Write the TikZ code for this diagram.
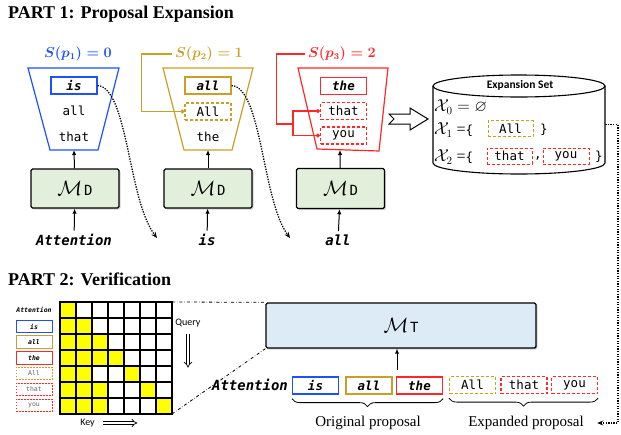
\documentclass[tikz,border=0pt]{standalone}
\usepackage{amsmath,amssymb}
\usepackage[no-math]{fontspec}
\setmainfont{Liberation Serif}
\setsansfont{Carlito}
\setmonofont{DejaVu Sans Mono}
\usetikzlibrary{arrows.meta,shadows,decorations.pathreplacing}

\definecolor{tokblue}{RGB}{30,80,255}
\definecolor{tokgold}{RGB}{200,160,40}
\definecolor{tokred}{RGB}{255,40,40}
\definecolor{mdgreen}{RGB}{226,239,218}
\definecolor{mtblue}{RGB}{221,235,247}
\definecolor{maskyellow}{RGB}{255,255,0}

\newcommand{\tokfont}{\fontsize{12.5}{14}\selectfont\ttfamily}
\newcommand{\tokbold}{\fontsize{12.5}{14}\selectfont\ttfamily\bfseries\itshape}
\newcommand{\attfont}{\fontsize{14}{16}\selectfont\ttfamily\bfseries\itshape}
\newcommand{\tinytok}{\fontsize{6.5}{7}\selectfont\ttfamily}
\newcommand{\tinybold}{\fontsize{6.5}{7}\selectfont\ttfamily\bfseries\itshape}
\newcommand{\slabel}{\fontsize{13.5}{14}\selectfont}
\newcommand{\score}[2]{{\boldmath$S(p_{#1})=#2$}}
\newcommand{\setfont}{\fontsize{16}{18}\selectfont}
\newcommand{\modellabel}[1]{{\fontsize{21}{21}\selectfont$\mathcal{M}$}\,{\fontsize{14}{14}\selectfont\ttfamily #1}}

\tikzset{
  tok/.style={draw, line width=1.2pt, minimum width=46pt, minimum height=17pt, inner sep=0pt, font=\tokfont},
  soltok/.style={tok, font=\tokbold},
  dashtok/.style={tok, dash pattern=on 3pt off 2pt},
  settok/.style={dashtok, line width=1pt, minimum width=45pt, minimum height=16pt},
  minitok/.style={draw, line width=0.9pt, minimum width=36pt, minimum height=12.5pt, inner sep=0pt, font=\tinybold},
  minidash/.style={minitok, dash pattern=on 1.5pt off 1.5pt, font=\tinytok, text=black!60},
  model/.style={draw, line width=1.4pt, rounded corners=1.5pt, drop shadow={opacity=0.35, shadow xshift=1.5pt, shadow yshift=-1.5pt}},
  arr/.style={line width=1pt, -{Latex[length=5pt,width=4.5pt]}},
  dotarr/.style={line width=1.3pt, dash pattern=on 1.3pt off 1.3pt, -{Stealth[length=6pt,width=5pt]}},
  loopline/.style={line width=1.1pt, -{Circle[length=4pt]}},
  hollow/.style={double, double distance=2.2pt, line width=0.7pt, -{Implies}},
  brace/.style={decorate, decoration={brace, mirror, amplitude=8pt}, line width=0.8pt},
  cell/.style={line width=1.1pt}
}

\begin{document}
\begin{tikzpicture}[x=1pt, y=-1pt]
    \useasboundingbox (0,0) rectangle (621,434);

    %TITLES
    \node (title1) [anchor=base west, inner sep=0pt, font=\fontsize{18}{18}\selectfont\bfseries] at (8,18) {PART 1: Proposal Expansion};
    \node (title2) [anchor=base west, inner sep=0pt, font=\fontsize{18}{18}\selectfont\bfseries] at (8,285) {PART 2: Verification};

    %STEP 1
    \draw [tokblue, line width=1.2pt] (28,68) -- (119,68) -- (98,150) -- (50,150) -- cycle;
    \node (s1) [text=tokblue, font=\slabel] at (78,54) {\score{1}{0}};
    \node (is1) [soltok, draw=tokblue] at (74,85.5) {is};
    \node (all1) [font=\tokfont] at (74,111) {all};
    \node (that1) [font=\tokfont] at (74,137) {that};
    \node (md1) [model, fill=mdgreen, minimum width=88pt, minimum height=39pt] at (75,188.5) {\modellabel{D}};
    \node (att1) [font=\attfont] at (74,240) {Attention};
    \coordinate (bot1) at (74,150);
    \draw [arr] (att1) -- (md1);
    \draw [arr] (md1) -- (bot1);

    %STEP 2
    \draw [tokgold, line width=1.2pt] (163,68) -- (253,68) -- (232,150) -- (184,150) -- cycle;
    \node (s2) [text=tokgold, font=\slabel] at (209,54) {\score{2}{1}};
    \node (all2) [soltok, draw=tokgold] at (208,85.5) {all};
    \node (All2) [dashtok, draw=tokgold] at (208,111.5) {All};
    \node (the2) [font=\tokfont] at (208,137) {the};
    \node (md2) [model, fill=mdgreen, minimum width=88pt, minimum height=39pt] at (208,188.5) {\modellabel{D}};
    \node (w2) [font=\attfont] at (207,240) {is};
    \coordinate (bot2) at (208,150);
    \draw [arr] (w2) -- (md2);
    \draw [arr] (md2) -- (bot2);
    \draw [tokgold, loopline] (s2.west) -- ++(-30,0) |- (All2.west);

    %STEP 3
    \draw [tokred, line width=1.2pt] (298,68) -- (388,68) -- (379,151) -- (317,149) -- cycle;
    \node (s3) [text=tokred, font=\slabel] at (342,54) {\score{3}{2}};
    \node (the3) [soltok, draw=tokred] at (343.5,86) {the};
    \node (that3) [dashtok, draw=tokred] at (343.5,111) {that};
    \node (you3) [dashtok, draw=tokred] at (343.5,135.5) {you};
    \node (md3) [model, fill=mdgreen, minimum width=88pt, minimum height=40pt] at (340.5,188.5) {\modellabel{D}};
    \node (w3) [font=\attfont] at (338,240) {all};
    \coordinate (bot3) at (340,150);
    \coordinate (fork) at (293,124);
    \draw [arr] (w3) -- (md3);
    \draw [arr] (md3) -- (bot3);
    \draw [tokred, line width=1.1pt] (s3.west) -- ++(-28,0) |- (fork);
    \draw [tokred, loopline] (fork) |- (that3.west);
    \draw [tokred, loopline] (fork) |- (you3.west);

    %NEXT TOKEN
    \coordinate (c1) at (157,238);
    \coordinate (c2) at (290,238);
    \draw [dotarr] (is1.east) .. controls (128,88) and (128,200) .. (c1);
    \draw [dotarr] (all2.east) .. controls (262,88) and (262,200) .. (c2);

    %EXPANSION SET
    \draw [line width=1pt, fill=white] (389,114) -- (410,114) -- (410,108) -- (428,119) -- (410,130) -- (410,124) -- (389,124) -- (394,119) -- cycle;
    \node (exset) [minimum width=172pt, minimum height=99pt, inner sep=0pt] at (519,124.5) {};
    \draw [line width=1.1pt, fill=white] (433,86) -- (433,163) .. controls (433,169.1) and (471.5,174) .. (519,174) .. controls (566.5,174) and (605,169.1) .. (605,163) -- (605,86);
    \draw [line width=1.1pt] (519,86) ellipse [x radius=86, y radius=11];
    \node (settitle) [font=\fontsize{11.5}{12}\selectfont\sffamily\bfseries] at (520,85) {Expansion Set};
    \node (x0) [anchor=west, inner sep=0pt, font=\setfont] at (434,107) {$\mathcal{X}_0 = \varnothing$};
    \node (x1) [anchor=west, inner sep=0pt, font=\setfont] at (434,130) {$\mathcal{X}_1$ ={\tokfont\{}};
    \node (setA) [settok, draw=tokgold] at (510.5,128.5) {All};
    \node (x1r) [font=\tokfont] at (544,130) {\}};
    \node (x2) [anchor=west, inner sep=0pt, font=\setfont] at (434,157) {$\mathcal{X}_2$ ={\tokfont\{}};
    \node (setB) [settok, draw=tokred] at (509.5,156) {that};
    \node (comma) [font=\tokfont] at (538,158) {,};
    \node (setC) [settok, draw=tokred, minimum width=46pt] at (566,156) {you};
    \node (x2r) [font=\tokfont] at (599,157) {\}};

    %ATTENTION MASK
    \node (matt) [font=\tinybold] at (34,310) {Attention};
    \node (mis) [minitok, draw=tokblue] at (34,326.5) {is};
    \node (mall) [minitok, draw=tokgold] at (34,342) {all};
    \node (mthe) [minitok, draw=tokred] at (34,358) {the};
    \node (mAll) [minidash, draw=tokgold] at (34,373.5) {All};
    \node (mthat) [minidash, draw=tokred] at (34,389.5) {that};
    \node (myou) [minidash, draw=tokred] at (34,405.5) {you};
    \foreach \r/\c in {0/0,1/0,1/1,2/0,2/1,2/2,3/0,3/1,3/2,3/3,4/0,4/1,4/4,5/0,5/1,5/2,5/5,6/0,6/1,6/2,6/6}
        \fill [maskyellow] (60+16*\c,302+16*\r) rectangle ++(16,16);
    \foreach \r in {0,...,6}
        \foreach \c in {0,...,6}
            \draw [cell] (60+16*\c,302+16*\r) rectangle ++(16,16);
    \coordinate (gtr) at (172,302);
    \coordinate (gbr) at (172,414);
    \node (query) [font=\fontsize{10}{11}\selectfont\sffamily] at (188,323) {Query};
    \node (key) [font=\fontsize{10}{11}\selectfont\sffamily] at (87.5,423) {Key};
    \draw [hollow] ([yshift=-3pt]query.south) -- ++(0,34);
    \draw [hollow] ([xshift=5pt]key.east) -- ++(34,0);

    %TARGET MODEL
    \node (mt) [model, fill=mtblue, minimum width=270pt, minimum height=45pt] at (401,325.5) {\modellabel{T}};
    \draw [dash dot, line width=0.8pt] (gtr) -- (mt.north west);
    \draw [dash dot, line width=0.8pt] (gbr) -- (mt.south west);
    \node (attB) [font=\attfont] at (250,385) {Attention};
    \node (isB) [soltok, draw=tokblue] at (315.5,385.5) {is};
    \node (allB) [soltok, draw=tokgold] at (369,385.5) {all};
    \node (theB) [soltok, draw=tokred] at (419.5,385.5) {the};
    \node (AllB) [dashtok, draw=tokgold] at (472.5,385) {All};
    \node (thatB) [dashtok, draw=tokred] at (524,385) {that};
    \node (youB) [dashtok, draw=tokred] at (574.5,385) {you};
    \coordinate (inp) at (397,370);
    \draw [arr] (inp) -- (inp |- mt.south);

    %BRACES
    \draw [brace] ([yshift=-4pt]isB.south west) -- ([yshift=-4pt]theB.south east);
    \draw [brace] ([yshift=-4pt]AllB.south west) -- ([yshift=-4pt]youB.south east);
    \node (orig) [font=\fontsize{15}{16}\selectfont] at (368,423) {Original proposal};
    \node (expd) [font=\fontsize{15}{16}\selectfont] at (526,423) {Expanded proposal};
    \coordinate (turn) at (618,124.5);
    \draw [dotarr, shorten >=10pt] (exset.east) -- (turn) |- (expd.east);

 \end{tikzpicture}
\end{document}
